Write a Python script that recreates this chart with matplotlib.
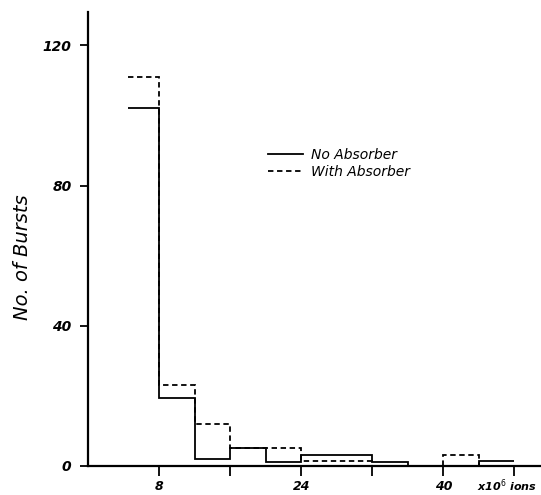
import matplotlib.pyplot as plt
import numpy as np

# bin edges (x10^6 ions) and counts per bin
bin_edges = [4.5, 8, 12, 16, 20, 24, 28, 32, 36, 40, 44, 48]
no_absorber = [102, 19.5, 2, 5, 1, 3, 3, 1, 0, 0, 1.5]
with_absorber = [111, 23, 12, 5, 5, 1.5, 1.5, 0, 0, 3, 0]

y_ticks = [0, 40, 80, 120]
x_ticks = [8, 16, 24, 32, 40, 48]
x_tick_labels = ['8', '', '24', '', '40', '']

fig = plt.figure(figsize=(5.41, 4.95), dpi=100)
ax = fig.add_axes([0.163, 0.0586, 0.837, 0.917])

ax.stairs(no_absorber, bin_edges, baseline=None, color='black',
          linewidth=1.3, label='No Absorber')
ax.stairs(with_absorber, bin_edges, baseline=None, color='black',
          linewidth=1.3, linestyle=(0, (3, 2)), label='With Absorber')

ax.set_xlim(0, 51)
ax.set_ylim(0, 129.5)

for s in ['top', 'right']:
    ax.spines[s].set_visible(False)
for s in ['left', 'bottom']:
    ax.spines[s].set_linewidth(1.6)

ax.set_yticks(y_ticks)
ax.set_yticklabels([str(v) for v in y_ticks], fontsize=10,
                   fontweight='bold', fontstyle='italic')
ax.set_xticks(x_ticks)
ax.set_xticklabels(x_tick_labels, fontsize=9, fontweight='bold',
                   fontstyle='italic')
ax.tick_params(axis='y', direction='out', length=6, width=1.3, pad=6)
ax.tick_params(axis='x', direction='out', length=7, width=1.3, pad=3)

ax.set_ylabel('No. of Bursts', fontsize=14, fontstyle='italic', va='center')
ax.yaxis.set_label_coords(-0.146, 0.46)
ax.text(50.5, -5.5, r'x10$^6$ ions', fontsize=8, fontweight='bold',
        fontstyle='italic', ha='right', va='center')

leg = ax.legend(loc='upper left', bbox_to_anchor=(0.37, 0.729), frameon=False,
                fontsize=10, handlelength=2.5, handletextpad=0.6,
                labelspacing=0.25)
for t in leg.get_texts():
    t.set_fontstyle('italic')

fig.savefig('out.png', dpi=100)
